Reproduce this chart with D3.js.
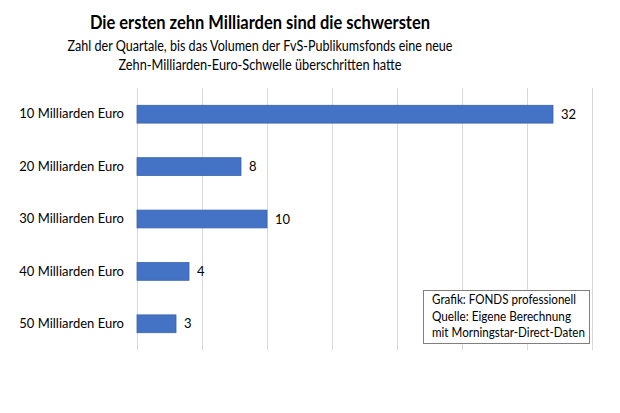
<!DOCTYPE html>
<html><head><meta charset="utf-8">
<script src="https://cdn.jsdelivr.net/npm/d3@7"></script>
<style>body{margin:0;background:#fff}svg{display:block}text{font-family:Lato,"Open Sans",sans-serif;fill:#000}</style>
</head><body>
<script>
const categories = ["10 Milliarden Euro","20 Milliarden Euro","30 Milliarden Euro","40 Milliarden Euro","50 Milliarden Euro"];
const values = [32, 8, 10, 4, 3];
const xTicks = [0,5,10,15,20,25,30,35];
const title = "Die ersten zehn Milliarden sind die schwersten";
const subtitle = ["Zahl der Quartale, bis das Volumen der FvS-Publikumsfonds eine neue","Zehn-Milliarden-Euro-Schwelle überschritten hatte"];
const note = ["Grafik: FONDS professionell","Quelle: Eigene Berechnung","mit Morningstar-Direct-Daten"];

const W=620,H=413;
const svg=d3.select("body").append("svg").attr("width",W).attr("height",H);
const x=d3.scaleLinear().domain([0,35]).range([137,592]);
const y=d3.scaleBand().domain(categories).range([88,350]).paddingInner(0.66).paddingOuter(0.33);

// gridlines
const ax=d3.axisBottom(x).tickValues(xTicks).tickSize(-(350-88)).tickFormat("");
const g=svg.append("g").attr("transform","translate(0,350)").call(ax);
g.select(".domain").remove();
g.selectAll("line").attr("stroke","#d9d9d9").attr("stroke-width",1);

// bars
svg.selectAll("rect.bar").data(values).join("rect").attr("class","bar")
 .attr("x",x(0)).attr("y",(d,i)=>y(categories[i]))
 .attr("width",d=>x(d)-x(0)).attr("height",y.bandwidth())
 .attr("fill","#4472C4").attr("stroke","#3a64ad").attr("stroke-width",0.8);

// value labels
svg.selectAll("text.val").data(values).join("text").attr("class","val")
 .attr("x",d=>x(d)+8).attr("y",(d,i)=>y(categories[i])+y.bandwidth()/2)
 .attr("dy","0.35em").attr("font-size",13).text(d=>d);

// y axis labels
const ya=d3.axisLeft(y).tickSize(0).tickPadding(13);
const yg=svg.append("g").attr("transform","translate(137,0)").call(ya);
yg.select(".domain").remove();
yg.selectAll("text").attr("font-size",13).attr("font-family","Lato,'Open Sans',sans-serif").attr("fill","#000");

// title
svg.append("text").attr("x",260).attr("y",29).attr("text-anchor","middle")
 .attr("font-size",19).attr("font-weight","bold")
 .attr("textLength",340).attr("lengthAdjust","spacingAndGlyphs").text(title);
const subLens=[385,283];
subtitle.forEach((s,i)=>svg.append("text").attr("x",260).attr("y",50.5+i*19.5)
 .attr("text-anchor","middle").attr("font-size",15.5)
 .attr("textLength",subLens[i]).attr("lengthAdjust","spacingAndGlyphs").text(s));

// note box
svg.append("rect").attr("x",423.5).attr("y",290.5).attr("width",166).attr("height",53)
 .attr("fill","#fff").attr("stroke","#7f7f7f").attr("stroke-width",1);
const noteLens=[144,139,153];
note.forEach((s,i)=>svg.append("text").attr("x",432).attr("y",304+i*16.5)
 .attr("font-size",13).attr("textLength",noteLens[i]).attr("lengthAdjust","spacingAndGlyphs").text(s));
</script>
</body></html>
